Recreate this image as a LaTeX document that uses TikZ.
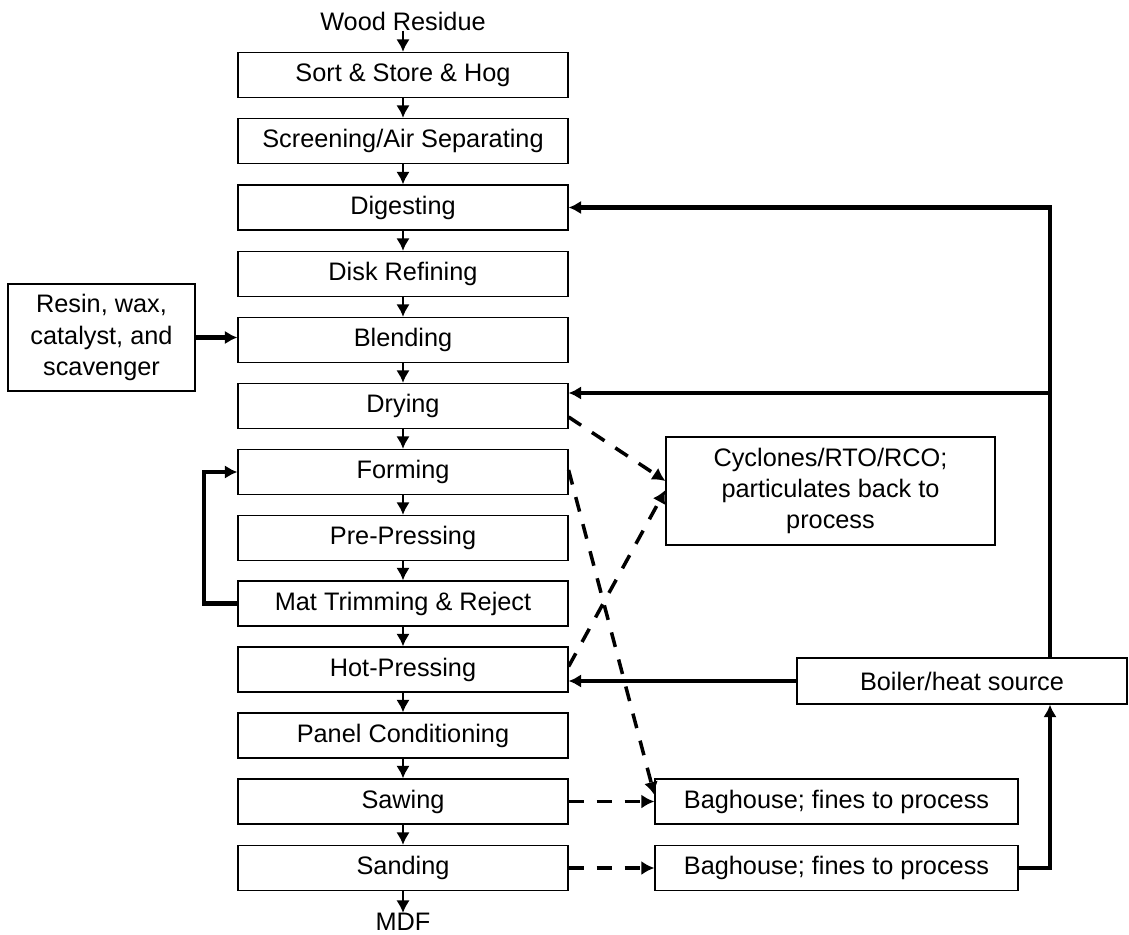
\documentclass[tikz,border=0pt]{standalone}
\usepackage{fontspec}
\setmainfont{Liberation Sans}
\usetikzlibrary{arrows.meta}

\begin{document}
\begin{tikzpicture}[
    x=0.02cm, y=-0.02cm,
    font=\fontsize{14.4}{17.8}\selectfont,
    stage/.style={rectangle, draw, line width=0.7pt, minimum width=6.6cm, minimum height=0.9cm, inner sep=0pt, align=center},
    side/.style={rectangle, draw, line width=0.7pt, inner sep=0pt, align=center},
    flow/.style={-{Latex[length=2.5mm,width=2.7mm]}, line width=1.6pt},
    feed/.style={-{Latex[length=2.5mm,width=2.7mm]}, line width=2.3pt},
    emis/.style={-{Latex[length=2.6mm,width=2.8mm]}, line width=2pt, dash pattern=on 0.3cm off 0.26cm}
]
    \useasboundingbox (0,0) rectangle (1129,934);

    % Prozessstufen
    \node[inner sep=0pt] (wood) at (403,21) {Wood Residue};
    \node[stage] (sort) at (403,75) {Sort \& Store \& Hog};
    \node[stage] (screen) at (403,141) {Screening/Air Separating};
    \node[stage] (digest) at (403,207.5) {Digesting};
    \node[stage] (refine) at (403,274) {Disk Refining};
    \node[stage] (blend) at (403,340) {Blending};
    \node[stage] (dry) at (403,406) {Drying};
    \node[stage] (form) at (403,472) {Forming};
    \node[stage] (prepress) at (403,538) {Pre-Pressing};
    \node[stage] (trim) at (403,603.5) {Mat Trimming \& Reject};
    \node[stage] (hotpress) at (403,669.5) {Hot-Pressing};
    \node[stage] (cond) at (403,735.5) {Panel Conditioning};
    \node[stage] (saw) at (403,801.5) {Sawing};
    \node[stage] (sand) at (403,868) {Sanding};
    \node[inner sep=0pt] (mdf) at (403,922) {MDF};

    % Nebenknoten
    \node[side, minimum width=3.74cm, minimum height=2.14cm] (resin) at (101.5,337.5) {Resin, wax,\\catalyst, and\\scavenger};
    \node[side, minimum width=6.58cm, minimum height=2.16cm] (cyc) at (830.5,491) {Cyclones/RTO/RCO;\\particulates back to\\process};
    \node[side, minimum width=6.6cm, minimum height=0.92cm] (boiler) at (962,681) {Boiler/heat source};
    \node[side, minimum width=7.26cm, minimum height=0.9cm] (bag1) at (836.5,801.5) {Baghouse; fines to process};
    \node[side, minimum width=7.26cm, minimum height=0.9cm] (bag2) at (836.5,868) {Baghouse; fines to process};

    \coordinate (heatup) at (1050,207.5);
    \coordinate (heatdry) at (1050,393);

    % Hauptfluss
    \foreach \a/\b in {wood/sort, sort/screen, screen/digest, digest/refine, refine/blend, blend/dry, dry/form, form/prepress, prepress/trim, trim/hotpress, hotpress/cond, cond/saw, saw/sand, sand/mdf}
        \draw[flow] (\a) -- (\b);

    % Zufuhr und Waerme
    \draw[feed] (resin.east) -- (resin.east -| blend.west);
    \draw[feed] (trim.west) -- ++(-33,0) |- (form.west);
    \draw[feed] (boiler.north -| heatup) -- (heatup) -- (digest.east);
    \draw[feed] (heatdry) -- (heatdry -| dry.east);
    \draw[feed] (boiler.west) -- (boiler.west -| hotpress.east);
    \draw[feed] (bag2.east) -| (boiler.south -| heatup);

    % Abluft und Staub
    \draw[emis] ([yshift=-0.22cm]dry.east) -- ([yshift=0.2cm]cyc.west);
    \draw[emis] ([yshift=0.06cm]hotpress.east) -- ([yshift=0.02cm]cyc.west);
    \draw[emis] ([yshift=0.04cm]form.east) -- ([yshift=0.13cm]bag1.west);
    \draw[emis] (saw) -- (bag1);
    \draw[emis] (sand) -- (bag2);
\end{tikzpicture}
\end{document}
